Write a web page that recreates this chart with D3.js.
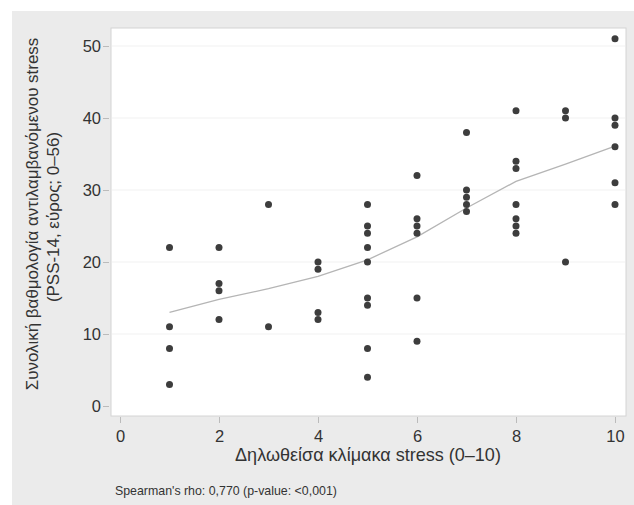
<!DOCTYPE html>
<html>
<head>
<meta charset="utf-8">
<script src="https://cdn.jsdelivr.net/npm/d3@7"></script>
<style>
  body { margin: 0; background: #fff; }
  svg { font-family: "Liberation Sans", Arial, sans-serif; display: block; }
  .tick text { fill: #333; }
</style>
</head>
<body>
<svg class="chart"></svg>
<script>
// self-rated stress (0-10) and PSS-14 total, one entry per respondent
const stressLevel = [
  1, 1, 1, 1,
  2, 2, 2, 2,
  3, 3,
  4, 4, 4, 4,
  5, 5, 5, 5, 5, 5, 5, 5, 5,
  6, 6, 6, 6, 6, 6,
  7, 7, 7, 7, 7,
  8, 8, 8, 8, 8, 8, 8,
  9, 9, 9,
  10, 10, 10, 10, 10, 10
]
const pssScore = [
  22, 11, 8, 3,
  22, 17, 16, 12,
  28, 11,
  20, 19, 13, 12,
  28, 25, 24, 22, 20, 15, 14, 8, 4,
  32, 26, 25, 24, 15, 9,
  38, 30, 29, 28, 27,
  41, 34, 33, 28, 26, 25, 24,
  41, 40, 20,
  51, 40, 39, 36, 31, 28
]
// smoothed (lowess) curve
const smoothX = [1, 2, 3, 4, 5, 6, 7, 8, 9, 10]
const smoothY = [13.0, 14.8, 16.3, 18.0, 20.3, 23.5, 27.5, 31.2, 33.6, 36.1]

const xTicks = [0, 2, 4, 6, 8, 10]
const yTicks = [0, 10, 20, 30, 40, 50]

const width = 634
const height = 505
const font = 'Liberation Sans, Arial, sans-serif'

const svg = d3.select('.chart')
  .attr('width', width)
  .attr('height', height)

// shrink/grow a text's font so it spans the wanted length
const fitText = (sel, base, target) => {
  sel.attr('font-size', base)
  const len = sel.node().getComputedTextLength()
  sel.attr('font-size', base * target / len)
}

// gray graph region and white plot region
svg.append('rect')
  .attr('x', 12).attr('y', 11)
  .attr('width', width - 12).attr('height', height - 11)
  .attr('fill', '#ebebeb')

const plot = { left: 111, top: 28, right: 626, bottom: 416 }
svg.append('rect')
  .attr('x', plot.left).attr('y', plot.top)
  .attr('width', plot.right - plot.left).attr('height', plot.bottom - plot.top)
  .attr('fill', '#fff')
  .attr('stroke', '#d4d4d4')
  .attr('stroke-width', 1)

const x = d3.scaleLinear().domain([0, 10]).range([120, 615])
const y = d3.scaleLinear().domain([0, 50]).range([406, 46])

// faint horizontal grid
svg.append('g')
  .selectAll('line')
  .data(yTicks.slice(1))
  .enter()
  .append('line')
  .attr('x1', plot.left + 1).attr('x2', plot.right - 1)
  .attr('y1', d => y(d)).attr('y2', d => y(d))
  .attr('stroke', '#f1f1f1')

const yAxis = svg.append('g')
  .attr('transform', `translate(${plot.left - 2},0)`)
  .call(d3.axisLeft(y).tickValues(yTicks).tickSize(6).tickPadding(2))
yAxis.select('.domain').remove()
yAxis.selectAll('.tick line').attr('stroke', '#bbb')
yAxis.selectAll('.tick text').attr('font-size', 16.5).attr('font-family', font)

const xAxis = svg.append('g')
  .attr('transform', `translate(0,${plot.bottom + 1})`)
  .call(d3.axisBottom(x).tickValues(xTicks).tickSize(6).tickPadding(7))
xAxis.select('.domain').remove()
xAxis.selectAll('.tick line').attr('stroke', '#bbb')
xAxis.selectAll('.tick text').attr('font-size', 16.5).attr('font-family', font)

// lowess line
const line = d3.line()
  .x((d, i) => x(smoothX[i]))
  .y(d => y(d))
svg.append('path')
  .datum(smoothY)
  .attr('d', line)
  .attr('fill', 'none')
  .attr('stroke', '#b5b5b5')
  .attr('stroke-width', 1.3)

// points
svg.append('g')
  .selectAll('circle')
  .data(pssScore)
  .enter()
  .append('circle')
  .attr('cx', (d, i) => x(stressLevel[i]))
  .attr('cy', d => y(d))
  .attr('r', 3.5)
  .attr('fill', '#3d3d3d')

// axis titles
const xTitle = svg.append('text')
  .attr('x', 368).attr('y', 461)
  .attr('text-anchor', 'middle')
  .attr('font-family', font)
  .attr('fill', '#333')
  .text('Δηλωθείσα κλίμακα stress (0–10)')
fitText(xTitle, 16, 266)

const yTitle1 = svg.append('text')
  .attr('transform', 'translate(38,214) rotate(-90)')
  .attr('text-anchor', 'middle')
  .attr('font-family', font)
  .attr('fill', '#333')
  .text('Συνολική βαθμολογία αντιλαμβανόμενου stress')
fitText(yTitle1, 16, 353)

svg.append('text')
  .attr('transform', 'translate(59,217) rotate(-90)')
  .attr('text-anchor', 'middle')
  .attr('font-family', font)
  .attr('font-size', yTitle1.attr('font-size'))
  .attr('fill', '#333')
  .text('(PSS-14, εύρος; 0–56)')

const note = svg.append('text')
  .attr('x', 115).attr('y', 495)
  .attr('font-family', font)
  .attr('fill', '#333')
  .text("Spearman's rho: 0,770 (p-value: <0,001)")
fitText(note, 11, 222)
</script>
</body>
</html>
